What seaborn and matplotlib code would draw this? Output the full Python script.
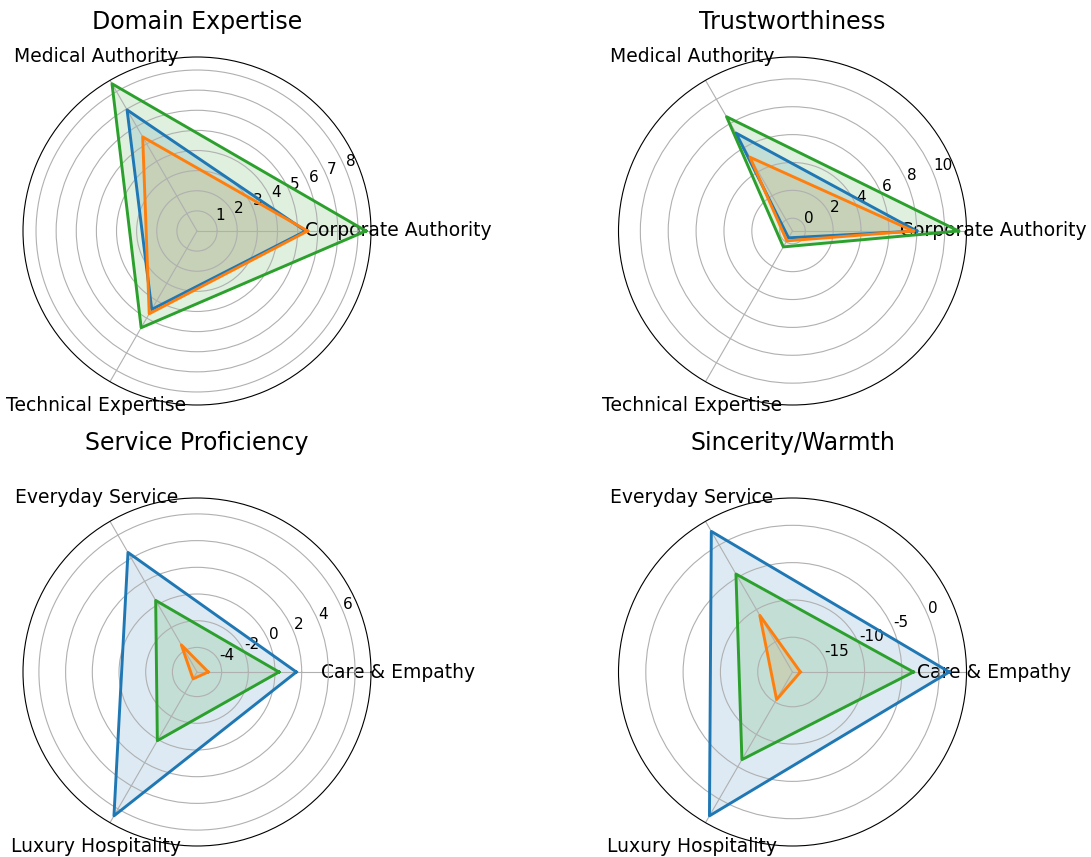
import numpy as np
import matplotlib
matplotlib.use("Agg")
import matplotlib.pyplot as plt
import seaborn as sns

plt.rcParams["axes.unicode_minus"] = False

# ---- data -------------------------------------------------------------
panel_titles = ["Domain Expertise", "Trustworthiness",
                "Service Proficiency", "Sincerity/Warmth"]
competence_labels = ["Corporate Authority", "Medical Authority", "Technical Expertise"]
warmth_labels = ["Care & Empathy", "Everyday Service", "Luxury Hospitality"]

# one list per series, ordered like the spoke labels
domain_blue = [5.4, 6.95, 4.5]
domain_orange = [5.5, 5.4, 4.75]
domain_green = [8.4, 8.45, 5.55]

trust_blue = [8.0, 7.2, -0.35]
trust_orange = [7.75, 5.2, -0.1]
trust_green = [11.0, 8.55, 0.4]

service_blue = [1.6, 4.5, 6.6]
service_orange = [-5.0, -3.5, -5.25]
service_green = [0.3, 0.35, 0.1]

sincerity_blue = [1.35, 2.1, 2.6]
sincerity_orange = [-18.6, -10.9, -15.4]
sincerity_green = [-3.45, -4.5, -6.1]

radial_ticks = [
    [1, 2, 3, 4, 5, 6, 7, 8],
    [0, 2, 4, 6, 8, 10],
    [-4, -2, 0, 2, 4, 6],
    [-15, -10, -5, 0],
]

panels = [
    (panel_titles[0], competence_labels, [domain_blue, domain_orange, domain_green]),
    (panel_titles[1], competence_labels, [trust_blue, trust_orange, trust_green]),
    (panel_titles[2], warmth_labels, [service_blue, service_orange, service_green]),
    (panel_titles[3], warmth_labels, [sincerity_blue, sincerity_orange, sincerity_green]),
]

# ---- figure -----------------------------------------------------------
W, H = 1091, 857
fig = plt.figure(figsize=(W / 100, H / 100), dpi=100)
colors = sns.color_palette("tab10", 3)

radius_px = 174
centers_px = [(197, 231), (792.5, 231), (197, 672), (792.5, 672)]
title_offsets = [1.10, 1.10, 1.158, 1.158]

for i, (title, spokes, series) in enumerate(panels):
    cx, cy = centers_px[i]
    rect = [(cx - radius_px) / W, (H - cy - radius_px) / H,
            2 * radius_px / W, 2 * radius_px / H]
    ax = fig.add_axes(rect, projection="polar")

    n = len(spokes)
    angles = np.linspace(0, 2 * np.pi, n, endpoint=False)
    closed_angles = np.append(angles, angles[0] + 2 * np.pi)

    for values, color in zip(series, colors):
        closed = np.append(values, values[0])
        sns.lineplot(x=closed_angles, y=closed, ax=ax, color=color,
                     linewidth=2.1, sort=False, estimator=None)
        ax.fill(closed_angles, closed, color=color, alpha=0.15)

    ax.set_xticks(angles)
    ax.set_xticklabels(spokes, fontsize=13.5)
    ax.tick_params(axis="x", pad=9)
    ax.set_yticks(radial_ticks[i])
    ax.set_yticklabels([str(t) for t in radial_ticks[i]], fontsize=11)
    ax.set_xlabel("")
    ax.set_ylabel("")
    ax.set_title(title, fontsize=17, y=title_offsets[i], va="center", pad=0)

fig.savefig("out.png", dpi=100)
